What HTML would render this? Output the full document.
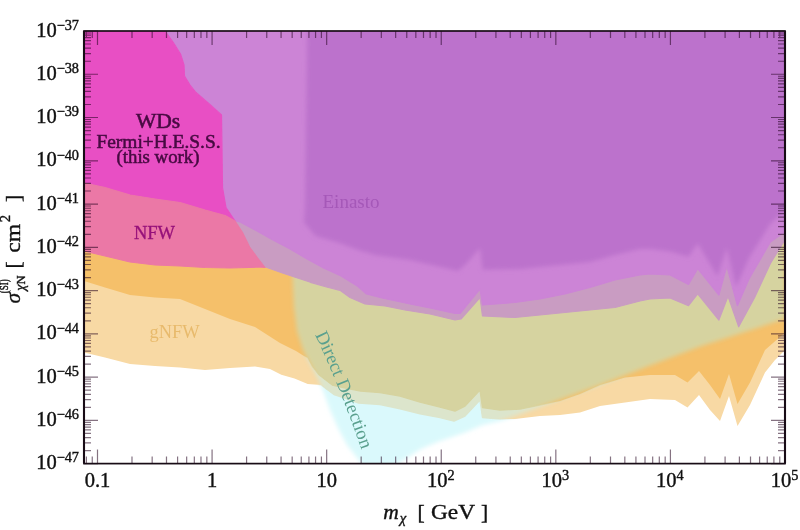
<!DOCTYPE html>
<html><head><meta charset="utf-8"><title>plot</title>
<style>html,body{margin:0;padding:0;background:#fff}svg{display:block}</style></head>
<body>
<svg width="800" height="530" viewBox="0 0 800 530">
<defs>
<mask id="cm" maskUnits="userSpaceOnUse" x="0" y="0" width="800" height="530"><polygon points="292.5,275.0 294.0,307.0 297.0,331.0 302.5,348.5 309.5,363.0 317.0,377.0 322.0,388.0 330.0,410.0 338.0,428.0 347.0,445.0 358.0,459.0 363.0,466.0 394.0,466.0 398.0,463.6 405.6,458.7 420.8,449.0 440.0,441.0 465.0,432.5 482.5,425.0 500.0,421.0 515.0,416.0 600.0,385.0 650.0,365.5 700.0,346.5 785.0,318.8 785.0,150.0 290.0,150.0" fill="#fff" filter="url(#bl3)"/></mask>
<clipPath id="fr"><rect x="84.0" y="31.0" width="701.0" height="432.6"/></clipPath>
<filter id="bl" x="-2%" y="-2%" width="104%" height="104%"><feGaussianBlur stdDeviation="0.7"/></filter>
<filter id="bl3" x="-5%" y="-5%" width="110%" height="110%"><feGaussianBlur stdDeviation="2.2"/></filter>
<filter id="bl4" x="-2%" y="-2%" width="104%" height="104%"><feGaussianBlur stdDeviation="0.45"/></filter>
<filter id="bl2" x="-5%" y="-5%" width="110%" height="110%"><feGaussianBlur stdDeviation="2.2"/></filter>
</defs>
<rect width="800" height="530" fill="#fff"/>
<g clip-path="url(#fr)"><g filter="url(#bl)">
<polygon points="292.5,275.0 294.0,307.0 297.0,331.0 302.5,348.5 309.5,363.0 317.0,377.0 322.0,388.0 330.0,410.0 338.0,428.0 347.0,445.0 358.0,459.0 363.0,466.0 394.0,466.0 398.0,463.6 405.6,458.7 420.8,449.0 440.0,441.0 465.0,432.5 482.5,425.0 500.0,421.0 515.0,416.0 600.0,385.0 650.0,365.5 700.0,346.5 785.0,318.8 785.0,150.0 290.0,150.0" fill="#DAF9FC" filter="url(#bl3)"/>
<polygon points="84.0,170.0 785.0,170.0 785.0,350.0 775.0,360.0 765.0,372.5 750.0,405.0 737.5,426.0 729.0,396.0 720.0,421.0 710.0,410.0 699.0,395.0 687.5,407.5 675.0,400.0 650.0,399.0 625.0,402.5 600.0,406.0 580.0,412.5 560.0,415.0 540.0,416.0 515.0,419.0 500.0,419.0 482.5,417.5 480.0,400.0 465.0,416.0 454.0,421.0 440.0,417.5 420.0,413.8 400.0,408.8 380.0,404.5 358.7,403.0 345.5,398.3 334.0,394.5 321.0,385.0 307.7,384.0 294.5,378.5 281.3,374.7 270.0,369.0 255.0,366.5 230.0,368.0 205.0,370.0 180.0,367.5 155.0,366.0 130.0,364.0 105.0,357.5 84.0,352.5" fill="#F8D9A4"/>
<g mask="url(#cm)"><polygon points="84.0,170.0 785.0,170.0 785.0,350.0 775.0,360.0 765.0,372.5 750.0,405.0 737.5,426.0 729.0,396.0 720.0,421.0 710.0,410.0 699.0,395.0 687.5,407.5 675.0,400.0 650.0,399.0 625.0,402.5 600.0,406.0 580.0,412.5 560.0,415.0 540.0,416.0 515.0,419.0 500.0,419.0 482.5,417.5 480.0,400.0 465.0,416.0 454.0,421.0 440.0,417.5 420.0,413.8 400.0,408.8 380.0,404.5 358.7,403.0 345.5,398.3 334.0,394.5 321.0,385.0 307.7,384.0 294.5,378.5 281.3,374.7 270.0,369.0 255.0,366.5 230.0,368.0 205.0,370.0 180.0,367.5 155.0,366.0 130.0,364.0 105.0,357.5 84.0,352.5" fill="#DCE5CC" stroke="#DCE5CC" stroke-width="1.4" stroke-linejoin="round"/></g>
<polygon points="84.0,170.0 785.0,170.0 785.0,332.5 765.0,350.0 750.0,382.5 737.5,404.0 729.0,374.0 720.0,399.0 710.0,385.0 699.0,371.0 687.5,382.5 675.0,375.0 650.0,375.0 625.0,377.5 600.0,385.0 580.0,394.0 560.0,401.0 540.0,405.0 520.0,409.0 500.0,410.0 482.5,407.5 480.0,390.0 465.0,406.0 455.0,411.0 440.0,407.0 420.0,402.0 400.0,396.0 380.0,392.5 360.6,391.0 345.5,388.0 332.3,385.0 319.0,374.7 312.0,366.0 307.7,357.7 304.0,356.0 296.0,351.0 280.0,343.0 255.0,327.0 230.0,319.0 205.0,309.0 180.0,299.0 155.0,297.5 130.0,295.0 105.0,287.5 84.0,281.0" fill="#F5C06A"/>
<g mask="url(#cm)"><polygon points="84.0,170.0 785.0,170.0 785.0,332.5 765.0,350.0 750.0,382.5 737.5,404.0 729.0,374.0 720.0,399.0 710.0,385.0 699.0,371.0 687.5,382.5 675.0,375.0 650.0,375.0 625.0,377.5 600.0,385.0 580.0,394.0 560.0,401.0 540.0,405.0 520.0,409.0 500.0,410.0 482.5,407.5 480.0,390.0 465.0,406.0 455.0,411.0 440.0,407.0 420.0,402.0 400.0,396.0 380.0,392.5 360.6,391.0 345.5,388.0 332.3,385.0 319.0,374.7 312.0,366.0 307.7,357.7 304.0,356.0 296.0,351.0 280.0,343.0 255.0,327.0 230.0,319.0 205.0,309.0 180.0,299.0 155.0,297.5 130.0,295.0 105.0,287.5 84.0,281.0" fill="#D6D3A0" stroke="#D6D3A0" stroke-width="1.4" stroke-linejoin="round"/></g>
<polygon points="235.0,221.0 242.5,232.5 249.6,247.0 257.6,258.0 265.6,267.0 281.7,272.7 296.0,277.5 310.5,282.3 326.5,287.0 340.0,290.3 350.0,297.5 365.0,304.0 385.0,306.0 405.0,310.0 430.0,314.0 455.0,320.0 461.0,319.0 480.0,297.5 482.5,316.0 515.0,317.5 540.0,315.0 565.0,312.5 590.0,310.0 615.0,307.5 640.0,301.0 650.0,299.0 670.0,298.0 688.5,305.7 697.7,293.8 718.9,320.0 728.0,296.4 738.7,326.8 754.5,297.8 770.4,263.4 785.0,239.6 785.0,100.0 235.0,100.0" fill="#C99CC2" stroke="#C99CC2" stroke-width="1.2" stroke-linejoin="round"/>
<polygon points="165.0,31.0 173.0,42.0 180.5,54.0 184.0,65.0 184.5,76.0 190.0,85.0 196.0,92.5 211.0,105.5 221.5,115.0 222.0,150.0 222.5,187.5 226.0,207.5 235.0,221.0 240.0,222.0 256.0,230.5 272.0,239.5 290.0,249.0 307.0,259.0 324.0,268.3 341.0,276.0 358.0,286.5 366.4,294.0 382.0,298.0 410.0,304.0 430.0,308.0 455.0,313.5 460.0,313.5 480.0,289.0 482.5,305.0 515.0,302.5 540.0,299.0 565.0,294.0 590.0,287.5 615.0,280.0 640.0,275.0 650.0,274.0 670.0,275.0 688.5,284.5 697.7,268.7 718.9,295.0 726.8,266.0 737.4,305.7 749.0,279.0 770.4,242.0 785.0,231.7 785.0,31.0" fill="#CC84D6" stroke="#CC84D6" stroke-width="1.2" stroke-linejoin="round"/>
<polygon points="307.5,10.0 305.0,207.0 304.0,222.5 315.5,236.0 341.0,243.5 358.0,250.0 375.0,255.0 392.0,257.5 410.0,260.0 425.0,263.5 445.0,268.0 458.0,271.0 466.0,264.0 480.0,248.0 482.7,269.7 521.0,269.0 555.0,265.5 590.0,262.0 615.0,255.0 640.0,249.0 650.0,249.0 670.0,251.5 688.5,256.8 697.7,243.6 717.5,276.6 726.8,247.5 736.0,287.0 749.0,258.0 770.4,223.8 785.0,210.6 800.0,205.0 800.0,10.0" fill="#BC72CC" filter="url(#bl2)"/>
<polygon points="84.0,31.0 165.0,31.0 173.0,42.0 180.5,54.0 184.0,65.0 184.5,76.0 190.0,85.0 196.0,92.5 211.0,105.5 221.5,115.0 222.0,150.0 222.5,187.5 226.0,207.5 235.0,221.0 235.0,221.0 225.0,215.5 205.0,210.0 180.0,202.5 155.0,199.0 130.0,195.0 105.0,187.5 84.0,183.0" fill="#E850C4" stroke="#E850C4" stroke-width="1.2" stroke-linejoin="round"/>
<polygon points="84.0,183.0 105.0,187.5 130.0,195.0 155.0,199.0 180.0,202.5 205.0,210.0 225.0,215.5 235.0,221.0 242.5,232.5 249.6,247.0 257.6,258.0 265.0,267.5 260.0,267.0 230.0,268.0 205.0,267.5 180.0,266.0 155.0,265.0 130.0,262.0 105.0,256.0 84.0,251.0" fill="#EB78A6" stroke="#EB78A6" stroke-width="1.2" stroke-linejoin="round"/>
</g></g>
<path d="M86.40 463.6v-7M86.40 31.0v7M92.26 463.6v-7M92.26 31.0v7M97.50 463.6v-14M97.50 31.0v14M131.99 463.6v-7M131.99 31.0v7M152.17 463.6v-7M152.17 31.0v7M166.49 463.6v-7M166.49 31.0v7M177.59 463.6v-7M177.59 31.0v7M186.66 463.6v-7M186.66 31.0v7M194.33 463.6v-7M194.33 31.0v7M200.98 463.6v-7M200.98 31.0v7M206.84 463.6v-7M206.84 31.0v7M212.08 463.6v-14M212.08 31.0v14M246.58 463.6v-7M246.58 31.0v7M266.75 463.6v-7M266.75 31.0v7M281.07 463.6v-7M281.07 31.0v7M292.17 463.6v-7M292.17 31.0v7M301.25 463.6v-7M301.25 31.0v7M308.92 463.6v-7M308.92 31.0v7M315.56 463.6v-7M315.56 31.0v7M321.42 463.6v-7M321.42 31.0v7M326.67 463.6v-14M326.67 31.0v14M361.16 463.6v-7M361.16 31.0v7M381.34 463.6v-7M381.34 31.0v7M395.65 463.6v-7M395.65 31.0v7M406.76 463.6v-7M406.76 31.0v7M415.83 463.6v-7M415.83 31.0v7M423.50 463.6v-7M423.50 31.0v7M430.15 463.6v-7M430.15 31.0v7M436.01 463.6v-7M436.01 31.0v7M441.25 463.6v-14M441.25 31.0v14M475.74 463.6v-7M475.74 31.0v7M495.92 463.6v-7M495.92 31.0v7M510.24 463.6v-7M510.24 31.0v7M521.34 463.6v-7M521.34 31.0v7M530.41 463.6v-7M530.41 31.0v7M538.08 463.6v-7M538.08 31.0v7M544.73 463.6v-7M544.73 31.0v7M550.59 463.6v-7M550.59 31.0v7M555.83 463.6v-14M555.83 31.0v14M590.33 463.6v-7M590.33 31.0v7M610.50 463.6v-7M610.50 31.0v7M624.82 463.6v-7M624.82 31.0v7M635.92 463.6v-7M635.92 31.0v7M645.00 463.6v-7M645.00 31.0v7M652.67 463.6v-7M652.67 31.0v7M659.31 463.6v-7M659.31 31.0v7M665.17 463.6v-7M665.17 31.0v7M670.42 463.6v-14M670.42 31.0v14M704.91 463.6v-7M704.91 31.0v7M725.09 463.6v-7M725.09 31.0v7M739.40 463.6v-7M739.40 31.0v7M750.51 463.6v-7M750.51 31.0v7M759.58 463.6v-7M759.58 31.0v7M767.25 463.6v-7M767.25 31.0v7M773.90 463.6v-7M773.90 31.0v7M779.76 463.6v-7M779.76 31.0v7M785.00 463.6v-14M785.00 31.0v14M84.0 31.00h14M785.0 31.00h-14M84.0 74.26h14M785.0 74.26h-14M84.0 61.24h7M785.0 61.24h-7M84.0 53.62h7M785.0 53.62h-7M84.0 48.21h7M785.0 48.21h-7M84.0 44.02h7M785.0 44.02h-7M84.0 40.60h7M785.0 40.60h-7M84.0 37.70h7M785.0 37.70h-7M84.0 35.19h7M785.0 35.19h-7M84.0 32.98h7M785.0 32.98h-7M84.0 117.52h14M785.0 117.52h-14M84.0 104.50h7M785.0 104.50h-7M84.0 96.88h7M785.0 96.88h-7M84.0 91.47h7M785.0 91.47h-7M84.0 87.28h7M785.0 87.28h-7M84.0 83.86h7M785.0 83.86h-7M84.0 80.96h7M785.0 80.96h-7M84.0 78.45h7M785.0 78.45h-7M84.0 76.24h7M785.0 76.24h-7M84.0 160.78h14M785.0 160.78h-14M84.0 147.76h7M785.0 147.76h-7M84.0 140.14h7M785.0 140.14h-7M84.0 134.73h7M785.0 134.73h-7M84.0 130.54h7M785.0 130.54h-7M84.0 127.12h7M785.0 127.12h-7M84.0 124.22h7M785.0 124.22h-7M84.0 121.71h7M785.0 121.71h-7M84.0 119.50h7M785.0 119.50h-7M84.0 204.04h14M785.0 204.04h-14M84.0 191.02h7M785.0 191.02h-7M84.0 183.40h7M785.0 183.40h-7M84.0 177.99h7M785.0 177.99h-7M84.0 173.80h7M785.0 173.80h-7M84.0 170.38h7M785.0 170.38h-7M84.0 167.48h7M785.0 167.48h-7M84.0 164.97h7M785.0 164.97h-7M84.0 162.76h7M785.0 162.76h-7M84.0 247.30h14M785.0 247.30h-14M84.0 234.28h7M785.0 234.28h-7M84.0 226.66h7M785.0 226.66h-7M84.0 221.25h7M785.0 221.25h-7M84.0 217.06h7M785.0 217.06h-7M84.0 213.64h7M785.0 213.64h-7M84.0 210.74h7M785.0 210.74h-7M84.0 208.23h7M785.0 208.23h-7M84.0 206.02h7M785.0 206.02h-7M84.0 290.56h14M785.0 290.56h-14M84.0 277.54h7M785.0 277.54h-7M84.0 269.92h7M785.0 269.92h-7M84.0 264.51h7M785.0 264.51h-7M84.0 260.32h7M785.0 260.32h-7M84.0 256.90h7M785.0 256.90h-7M84.0 254.00h7M785.0 254.00h-7M84.0 251.49h7M785.0 251.49h-7M84.0 249.28h7M785.0 249.28h-7M84.0 333.82h14M785.0 333.82h-14M84.0 320.80h7M785.0 320.80h-7M84.0 313.18h7M785.0 313.18h-7M84.0 307.77h7M785.0 307.77h-7M84.0 303.58h7M785.0 303.58h-7M84.0 300.16h7M785.0 300.16h-7M84.0 297.26h7M785.0 297.26h-7M84.0 294.75h7M785.0 294.75h-7M84.0 292.54h7M785.0 292.54h-7M84.0 377.08h14M785.0 377.08h-14M84.0 364.06h7M785.0 364.06h-7M84.0 356.44h7M785.0 356.44h-7M84.0 351.03h7M785.0 351.03h-7M84.0 346.84h7M785.0 346.84h-7M84.0 343.42h7M785.0 343.42h-7M84.0 340.52h7M785.0 340.52h-7M84.0 338.01h7M785.0 338.01h-7M84.0 335.80h7M785.0 335.80h-7M84.0 420.34h14M785.0 420.34h-14M84.0 407.32h7M785.0 407.32h-7M84.0 399.70h7M785.0 399.70h-7M84.0 394.29h7M785.0 394.29h-7M84.0 390.10h7M785.0 390.10h-7M84.0 386.68h7M785.0 386.68h-7M84.0 383.78h7M785.0 383.78h-7M84.0 381.27h7M785.0 381.27h-7M84.0 379.06h7M785.0 379.06h-7M84.0 463.60h14M785.0 463.60h-14M84.0 450.58h7M785.0 450.58h-7M84.0 442.96h7M785.0 442.96h-7M84.0 437.55h7M785.0 437.55h-7M84.0 433.36h7M785.0 433.36h-7M84.0 429.94h7M785.0 429.94h-7M84.0 427.04h7M785.0 427.04h-7M84.0 424.53h7M785.0 424.53h-7M84.0 422.32h7M785.0 422.32h-7" stroke="#22061e" stroke-width="1.2" fill="none" opacity="0.55" filter="url(#bl4)"/>
<rect x="84.0" y="31.0" width="701.0" height="432.6" fill="none" stroke="#180c16" stroke-width="1.7"/>
<path d="M84.0 31.0V463.6M785.0 31.0V463.6" stroke="#180c16" stroke-width="2.1" fill="none"/>
<text x="79" y="36.6" text-anchor="end" font-family="Liberation Serif, serif" font-size="20.5" fill="#111" stroke="#111" stroke-width="0.4">10<tspan dy="-6.8" font-size="14.3">−37</tspan></text>
<text x="79" y="79.9" text-anchor="end" font-family="Liberation Serif, serif" font-size="20.5" fill="#111" stroke="#111" stroke-width="0.4">10<tspan dy="-6.8" font-size="14.3">−38</tspan></text>
<text x="79" y="123.1" text-anchor="end" font-family="Liberation Serif, serif" font-size="20.5" fill="#111" stroke="#111" stroke-width="0.4">10<tspan dy="-6.8" font-size="14.3">−39</tspan></text>
<text x="79" y="166.4" text-anchor="end" font-family="Liberation Serif, serif" font-size="20.5" fill="#111" stroke="#111" stroke-width="0.4">10<tspan dy="-6.8" font-size="14.3">−40</tspan></text>
<text x="79" y="209.6" text-anchor="end" font-family="Liberation Serif, serif" font-size="20.5" fill="#111" stroke="#111" stroke-width="0.4">10<tspan dy="-6.8" font-size="14.3">−41</tspan></text>
<text x="79" y="252.9" text-anchor="end" font-family="Liberation Serif, serif" font-size="20.5" fill="#111" stroke="#111" stroke-width="0.4">10<tspan dy="-6.8" font-size="14.3">−42</tspan></text>
<text x="79" y="296.2" text-anchor="end" font-family="Liberation Serif, serif" font-size="20.5" fill="#111" stroke="#111" stroke-width="0.4">10<tspan dy="-6.8" font-size="14.3">−43</tspan></text>
<text x="79" y="339.4" text-anchor="end" font-family="Liberation Serif, serif" font-size="20.5" fill="#111" stroke="#111" stroke-width="0.4">10<tspan dy="-6.8" font-size="14.3">−44</tspan></text>
<text x="79" y="382.7" text-anchor="end" font-family="Liberation Serif, serif" font-size="20.5" fill="#111" stroke="#111" stroke-width="0.4">10<tspan dy="-6.8" font-size="14.3">−45</tspan></text>
<text x="79" y="425.9" text-anchor="end" font-family="Liberation Serif, serif" font-size="20.5" fill="#111" stroke="#111" stroke-width="0.4">10<tspan dy="-6.8" font-size="14.3">−46</tspan></text>
<text x="79" y="469.2" text-anchor="end" font-family="Liberation Serif, serif" font-size="20.5" fill="#111" stroke="#111" stroke-width="0.4">10<tspan dy="-6.8" font-size="14.3">−47</tspan></text>
<text x="97.5" y="486.8" text-anchor="middle" font-family="Liberation Serif, serif" font-size="20.5" fill="#111" stroke="#111" stroke-width="0.4">0.1</text>
<text x="212.1" y="486.8" text-anchor="middle" font-family="Liberation Serif, serif" font-size="20.5" fill="#111" stroke="#111" stroke-width="0.4">1</text>
<text x="326.7" y="486.8" text-anchor="middle" font-family="Liberation Serif, serif" font-size="20.5" fill="#111" stroke="#111" stroke-width="0.4">10</text>
<text x="440.8" y="486.8" text-anchor="middle" font-family="Liberation Serif, serif" font-size="20.5" fill="#111" stroke="#111" stroke-width="0.4">10<tspan dy="-6.8" font-size="14.3">2</tspan></text>
<text x="555.3" y="486.8" text-anchor="middle" font-family="Liberation Serif, serif" font-size="20.5" fill="#111" stroke="#111" stroke-width="0.4">10<tspan dy="-6.8" font-size="14.3">3</tspan></text>
<text x="669.9" y="486.8" text-anchor="middle" font-family="Liberation Serif, serif" font-size="20.5" fill="#111" stroke="#111" stroke-width="0.4">10<tspan dy="-6.8" font-size="14.3">4</tspan></text>
<text x="784.5" y="486.8" text-anchor="middle" font-family="Liberation Serif, serif" font-size="20.5" fill="#111" stroke="#111" stroke-width="0.4">10<tspan dy="-6.8" font-size="14.3">5</tspan></text>
<g font-family="Liberation Serif, serif" fill="#111" stroke="#111" stroke-width="0.4" font-size="21.5">
<text x="383.2" y="518.7" font-style="italic">m</text>
<text x="399.8" y="523" font-size="14.5" font-style="italic">χ</text>
<text x="417.5" y="518.7">[</text>
<text x="431" y="518.7" textLength="44" lengthAdjust="spacingAndGlyphs">GeV</text>
<text x="481" y="518.7">]</text>
</g>
<g transform="translate(20,303) rotate(-90)" font-family="Liberation Serif, serif" fill="#111" stroke="#111" stroke-width="0.4" font-size="21.5">
<text x="-0.5" y="0" font-style="italic">σ</text>
<text x="9.8" y="-11.8" font-size="12.5" textLength="14" lengthAdjust="spacingAndGlyphs">(SI)</text>
<text x="12.3" y="4.6" font-size="12.5"><tspan font-style="italic" font-size="14">χ</tspan>N</text>
<text x="34.5" y="0">[</text>
<text x="50.3" y="0" textLength="28.8" lengthAdjust="spacingAndGlyphs">cm</text>
<text x="80.8" y="-9.6" font-size="14.5">2</text>
<text x="101" y="0">]</text>
</g>
<g font-family="Liberation Serif, serif" text-anchor="middle" fill="#470a42" stroke="#470a42" stroke-width="0.55">
<text x="158" y="128" font-size="21.5">WDs</text>
<text x="158.5" y="148" font-size="19.4">Fermi+H.E.S.S.</text>
<text x="158" y="163" font-size="18.8">(this work)</text>
</g>
<text x="351" y="208" text-anchor="middle" font-family="Liberation Serif, serif" font-size="19" fill="#a558b8">Einasto</text>
<text x="154.5" y="238.8" text-anchor="middle" font-family="Liberation Serif, serif" font-size="18.5" fill="#96107a" stroke="#96107a" stroke-width="0.3">NFW</text>
<text x="174.5" y="338" text-anchor="middle" font-family="Liberation Serif, serif" font-size="18.4" fill="#e8ba6c">gNFW</text>
<path id="ddp" d="M315 335 Q338 382 362 451" fill="none"/>
<text font-family="Liberation Serif, serif" font-size="18.7" fill="#5aa08e"><textPath href="#ddp">Direct Detection</textPath></text>
</svg>
</body></html>
